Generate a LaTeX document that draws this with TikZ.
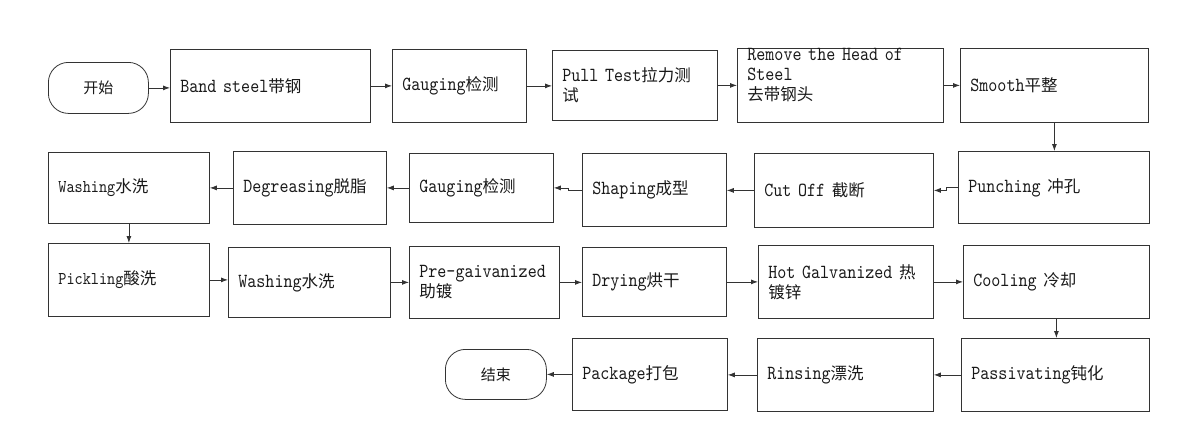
\documentclass[tikz,border=0pt]{standalone}
\usepackage{fontspec}
\usetikzlibrary{arrows.meta}
\newfontfamily\latinfont[FakeStretch=0.86]{lmmono10-regular.otf}
\newfontfamily\cjkfont{Noto Sans CJK SC}
\newcommand\zh[1]{{\fontsize{16.5}{20}\cjkfont #1}}
\begin{document}
\begin{tikzpicture}[x=1pt,y=-1pt,
  stepbox/.style={draw=black!80, line width=0.8pt, anchor=north west, inner xsep=10pt, inner ysep=0pt, align=left, font=\fontsize{20}{20}\latinfont, text=black!90},
  smalltext/.style={font=\fontsize{18}{20}\latinfont},
  termbox/.style={draw=black!80, line width=0.8pt, rounded corners=20pt, anchor=north west, inner sep=0pt, font=\fontsize{15}{18}\cjkfont, text=black!90},
  arr/.style={draw=black!80, line width=0.8pt, -{Latex[length=7pt,width=5pt]}}
]
\useasboundingbox (0,0) rectangle (1179,442);
% row 1
\node[termbox, minimum width=100pt, minimum height=51pt] (start) at (48,62) {开始};
\node[stepbox, minimum width=200pt, minimum height=73pt, text width=180pt] (band) at (170,49) {Band steel\zh{带钢}};
\node[stepbox, minimum width=134pt, minimum height=73pt, text width=114pt] (gauge1) at (392,49) {Gauging\zh{检测}};
\node[stepbox, minimum width=165pt, minimum height=70pt, text width=145pt] (pull) at (552,50) {\mbox{Pull Test\zh{拉力测}}\\\zh{试}};
\node[stepbox, minimum width=206pt, minimum height=74pt, text width=186pt, text height=10pt, text depth=60pt] (remove) at (737,48) {\mbox{Remove the Head of}\\Steel\\\zh{去带钢头}};
\node[stepbox, minimum width=188pt, minimum height=74pt, text width=168pt] (smooth) at (960,48) {Smooth\zh{平整}};
% row 2
\node[stepbox, minimum width=191pt, minimum height=72pt, text width=171pt] (punch) at (958,151) {Punching \zh{冲孔}};
\node[stepbox, minimum width=179pt, minimum height=74pt, text width=159pt] (cutoff) at (754,153) {Cut Off \zh{截断}};
\node[stepbox, minimum width=144pt, minimum height=73pt, text width=124pt] (shaping) at (582,153) {Shaping\zh{成型}};
\node[stepbox, minimum width=144pt, minimum height=69pt, text width=124pt] (gauge2) at (409,153) {Gauging\zh{检测}};
\node[stepbox, minimum width=153pt, minimum height=73pt, text width=133pt] (degrease) at (233,151) {Degreasing\zh{脱脂}};
\node[stepbox, smalltext, minimum width=161pt, minimum height=71pt, text width=141pt] (wash1) at (48,152) {Washing\zh{水洗}};
% row 3
\node[stepbox, smalltext, minimum width=161pt, minimum height=73pt, text width=141pt] (pickle) at (48,243) {Pickling\zh{酸洗}};
\node[stepbox, minimum width=162pt, minimum height=70pt, text width=142pt] (wash2) at (228,247) {Washing\zh{水洗}};
\node[stepbox, minimum width=150pt, minimum height=72pt, text width=130pt] (pre) at (409,246) {\mbox{Pre-gaivanized}\\\zh{助镀}};
\node[stepbox, minimum width=144pt, minimum height=69pt, text width=124pt] (dry) at (582,247) {Drying\zh{烘干}};
\node[stepbox, minimum width=175pt, minimum height=73pt, text width=155pt] (hot) at (758,245) {\mbox{Hot Galvanized \zh{热}}\\\zh{镀锌}};
\node[stepbox, minimum width=186pt, minimum height=73pt, text width=166pt] (cool) at (963,245) {Cooling \zh{冷却}};
% row 4
\node[stepbox, minimum width=188pt, minimum height=73pt, text width=168pt] (passiv) at (961,338) {Passivating\zh{钝化}};
\node[stepbox, minimum width=176pt, minimum height=73pt, text width=156pt] (rinse) at (757,338) {Rinsing\zh{漂洗}};
\node[stepbox, minimum width=155pt, minimum height=72pt, text width=135pt] (package) at (572,338) {Package\zh{打包}};
\node[termbox, minimum width=101pt, minimum height=50pt] (finish) at (445,349) {结束};
% connectors
\draw[arr] (start.east) -- (start.east -| band.west);
\draw[arr] (band.east) -- (band.east -| gauge1.west);
\draw[arr] (gauge1.east) -- (gauge1.east -| pull.west);
\draw[arr] (pull.east) -- (pull.east -| remove.west);
\draw[arr] (remove.east) -- (remove.east -| smooth.west);
\draw[arr] (smooth.south) -- (smooth.south |- punch.north);
\draw[arr] (punch.west) -- ++(-12,0) |- (cutoff.east);
\draw[arr] (cutoff.west) -- (cutoff.west -| shaping.east);
\draw[arr] (shaping.west) -- ++(-14,0) |- (gauge2.east);
\draw[arr] (gauge2.west) -- (gauge2.west -| degrease.east);
\draw[arr] (degrease.west) -- (degrease.west -| wash1.east);
\draw[arr] (wash1.south) -- (wash1.south |- pickle.north);
\draw[arr] (pickle.east) -- (pickle.east -| wash2.west);
\draw[arr] (wash2.east) -- (wash2.east -| pre.west);
\draw[arr] (pre.east) -- (pre.east -| dry.west);
\draw[arr] (dry.east) -- (dry.east -| hot.west);
\draw[arr] (hot.east) -- (hot.east -| cool.west);
\draw[arr] (cool.south) -- (cool.south |- passiv.north);
\draw[arr] (passiv.west) -- (passiv.west -| rinse.east);
\draw[arr] (rinse.west) -- (rinse.west -| package.east);
\draw[arr] (package.west) -- (package.west -| finish.east);
\end{tikzpicture}
\end{document}
